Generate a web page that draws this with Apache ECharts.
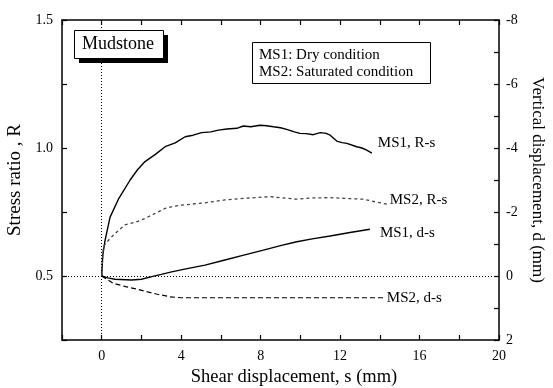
<!DOCTYPE html>
<html>
<head>
<meta charset="utf-8">
<script src="https://cdn.jsdelivr.net/npm/echarts@6/dist/echarts.min.js"></script>
<style>
  html, body { margin: 0; padding: 0; background: #fff; }
  #chart { width: 553px; height: 388px; }
</style>
</head>
<body>
<div id="chart"></div>
<script>
// MS1 (dry) stress ratio vs shear displacement
const ms1RS_s = [0, 0.05, 0.17, 0.42, 0.84, 1.43, 1.8, 2.18, 2.7, 3.19, 3.7, 4.2, 4.6, 5.03, 5.5, 5.87, 6.3, 6.8, 7.13, 7.5, 7.97, 8.3, 8.64, 9.0, 9.31, 9.7, 9.98, 10.3, 10.65, 11.0, 11.3, 11.5, 11.83, 12.1, 12.34, 12.84, 13.1, 13.34, 13.6];
const ms1RS_r = [0.5, 0.58, 0.64, 0.73, 0.80, 0.875, 0.915, 0.947, 0.975, 1.005, 1.02, 1.044, 1.05, 1.06, 1.063, 1.07, 1.074, 1.077, 1.086, 1.083, 1.089, 1.087, 1.083, 1.079, 1.073, 1.063, 1.057, 1.056, 1.052, 1.06, 1.057, 1.05, 1.027, 1.021, 1.018, 1.005, 1.0, 0.992, 0.98];

// MS2 (saturated) stress ratio vs shear displacement
const ms2RS_s = [0, 0.08, 0.42, 0.8, 1.17, 1.7, 2.18, 2.7, 3.19, 3.6, 4.03, 5.2, 6.2, 7.13, 8.47, 9.8, 10.6, 11.5, 12.3, 13.17, 13.76, 14.4];
const ms2RS_r = [0.5, 0.615, 0.647, 0.675, 0.70, 0.71, 0.725, 0.745, 0.764, 0.772, 0.777, 0.786, 0.797, 0.803, 0.81, 0.80, 0.805, 0.806, 0.803, 0.80, 0.79, 0.78];

// vertical displacement vs shear displacement
const ms1DS_s = [0, 0.3, 0.67, 1.5, 2.0, 2.52, 3.0, 3.52, 4.3, 5.2, 6.2, 7.2, 8.14, 9.0, 9.82, 10.6, 11.5, 12.5, 13.5];
const ms1DS_d = [0, 0.06, 0.1, 0.125, 0.1, 0.02, -0.05, -0.13, -0.23, -0.34, -0.5, -0.66, -0.81, -0.95, -1.07, -1.16, -1.25, -1.36, -1.46];
const ms2DS_s = [0, 0.58, 1.2, 1.84, 2.27, 2.8, 3.44, 4.0, 6.0, 10.0, 14.2];
const ms2DS_d = [0, 0.23, 0.33, 0.42, 0.49, 0.57, 0.65, 0.68, 0.68, 0.68, 0.68];

const FONT = 'Liberation Serif';
const zip = (a, b) => a.map((v, i) => [v, b[i]]);

const chart = echarts.init(document.getElementById('chart'), null, { renderer: 'canvas' });

const axisCommon = {
  axisLine: { show: true, onZero: false, lineStyle: { color: '#000', width: 1.5 } },
  axisTick: { show: true, inside: true, length: 5, lineStyle: { color: '#000', width: 1.2 } },
  splitLine: { show: false },
  axisLabel: { color: '#000', fontFamily: FONT, fontSize: 14 }
};

const endLbl = (text, dx, dy) => ({
  show: true,
  formatter: text,
  color: '#000',
  fontFamily: FONT,
  fontSize: 15,
  offset: [dx, dy]
});

chart.setOption({
  animation: false,
  grid: { left: 62, right: 54, top: 20, bottom: 48, containLabel: false, outerBoundsMode: 'none' },
  xAxis: [
    Object.assign({}, axisCommon, {
      type: 'value', min: -2, max: 20, interval: 2, position: 'bottom',
      name: 'Shear displacement, s (mm)', nameLocation: 'middle', nameGap: 26,
      nameTextStyle: { color: '#000', fontFamily: FONT, fontSize: 18.5, padding: [0, 0, 0, 27] },
      axisLabel: Object.assign({}, axisCommon.axisLabel, {
        margin: 9,
        formatter: v => (v >= 0 && v % 4 === 0) ? String(v) : ''
      })
    }),
    Object.assign({}, axisCommon, {
      type: 'value', min: -2, max: 20, interval: 2, position: 'top',
      axisLabel: { show: false }
    })
  ],
  yAxis: [
    Object.assign({}, axisCommon, {
      type: 'value', min: 0.25, max: 1.5, interval: 0.25, position: 'left',
      name: 'Stress ratio , R', nameLocation: 'middle', nameRotate: 90, nameGap: 37,
      nameTextStyle: { color: '#000', fontFamily: FONT, fontSize: 19 },
      axisLabel: Object.assign({}, axisCommon.axisLabel, {
        margin: 9,
        formatter: v => (v >= 0.5 && Math.abs(v * 2 - Math.round(v * 2)) < 1e-6) ? v.toFixed(1) : ''
      })
    }),
    Object.assign({}, axisCommon, {
      type: 'value', min: -8, max: 2, interval: 1, inverse: true, position: 'right',
      name: 'Vertical displacement, d (mm)', nameLocation: 'middle', nameRotate: -90, nameGap: 29,
      nameTextStyle: { color: '#000', fontFamily: FONT, fontSize: 17 },
      axisLabel: Object.assign({}, axisCommon.axisLabel, {
        margin: 7,
        formatter: v => (v % 2 === 0) ? String(v) : ''
      })
    })
  ],
  series: [
    {
      name: 'MS1, R-s', type: 'line', xAxisIndex: 0, yAxisIndex: 0,
      data: zip(ms1RS_s, ms1RS_r), showSymbol: false, smooth: false,
      lineStyle: { color: '#000', width: 1.4 },
      endLabel: endLbl('MS1, R-s', -2, -10),
      markLine: {
        silent: true, symbol: 'none', label: { show: false },
        lineStyle: { color: '#000', type: [1, 2], width: 1 },
        data: [{ xAxis: 0 }]
      },
      z: 5
    },
    {
      name: 'MS2, R-s', type: 'line', xAxisIndex: 0, yAxisIndex: 0,
      data: zip(ms2RS_s, ms2RS_r), showSymbol: false,
      lineStyle: { color: '#444', width: 1.3, type: [3, 3] },
      endLabel: endLbl('MS2, R-s', -6, -4),
      z: 5
    },
    {
      name: 'MS1, d-s', type: 'line', xAxisIndex: 0, yAxisIndex: 1,
      data: zip(ms1DS_s, ms1DS_d), showSymbol: false,
      lineStyle: { color: '#000', width: 1.4 },
      endLabel: endLbl('MS1, d-s', 2, 4),
      markLine: {
        silent: true, symbol: 'none', label: { show: false },
        lineStyle: { color: '#000', type: [1, 2], width: 1 },
        data: [{ yAxis: 0 }]
      },
      z: 5
    },
    {
      name: 'MS2, d-s', type: 'line', xAxisIndex: 0, yAxisIndex: 1,
      data: zip(ms2DS_s, ms2DS_d), showSymbol: false,
      lineStyle: { color: '#000', width: 1.2, type: [5, 3] },
      endLabel: endLbl('MS2, d-s', -5, 0),
      z: 5
    }
  ],
  graphic: [
    { type: 'rect', z: 100, shape: { x: 79, y: 35, width: 89, height: 28 }, style: { fill: '#000' } },
    { type: 'rect', z: 101, shape: { x: 74.5, y: 30.5, width: 89, height: 28 }, style: { fill: '#fff', stroke: '#000', lineWidth: 1 } },
    { type: 'text', z: 102, left: 82, top: 35, style: { text: 'Mudstone', fill: '#000', font: '18px "Liberation Serif"' } },
    { type: 'rect', z: 100, shape: { x: 252.5, y: 42.5, width: 178, height: 41 }, style: { fill: '#fff', stroke: '#000', lineWidth: 1 } },
    { type: 'text', z: 101, left: 259, top: 48, style: { text: 'MS1: Dry condition', fill: '#000', font: '15px "Liberation Serif"' } },
    { type: 'text', z: 101, left: 259, top: 65, style: { text: 'MS2: Saturated condition', fill: '#000', font: '15px "Liberation Serif"' } }
  ]
});
</script>
</body>
</html>
